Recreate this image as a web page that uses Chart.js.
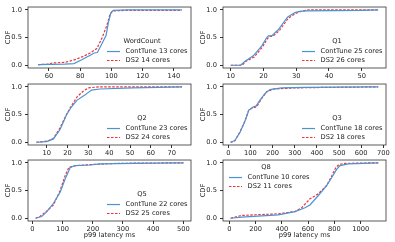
<!DOCTYPE html>
<html>
<head>
<meta charset="utf-8">
<script src="https://cdn.jsdelivr.net/npm/chart.js@4"></script>
<style>
  body{margin:0;background:#fff;}
  #wrap{position:relative;width:395px;height:242px;overflow:hidden;}
  #wrap canvas{position:absolute;}
</style>
</head>
<body>
<div id="wrap"></div>
<script>
// ---- data ----
const titles = ["WordCount","Q1","Q2","Q3","Q5","Q8"];
const contTuneLabels = ["ContTune 13 cores","ContTune 25 cores","ContTune 23 cores","ContTune 18 cores","ContTune 22 cores","ContTune 10 cores"];
const ds2Labels = ["DS2 14 cores","DS2 26 cores","DS2 24 cores","DS2 18 cores","DS2 25 cores","DS2 11 cores"];

const wordcountContTune = [[53,0.01],[70,0.02],[76,0.03],[81,0.10],[87,0.19],[89,0.22],[91,0.23],[93.4,0.36],[96.6,0.54],[98,0.77],[99.7,0.95],[101.2,0.99],[110,1.0],[145,1.0]];
const wordcountDS2 = [[53,0.01],[60,0.02],[62,0.04],[70,0.05],[76.7,0.10],[82,0.16],[86.3,0.22],[90.6,0.30],[93.8,0.48],[97,0.71],[99.1,0.92],[100.8,0.98],[110,0.99],[145,0.99]];
const q1ContTune = [[10,0],[13,0],[14.4,0.07],[16.9,0.17],[19.5,0.35],[21,0.50],[21.5,0.53],[22.5,0.53],[24.5,0.64],[27.4,0.87],[29.6,0.95],[31,0.97],[33,0.98],[50,0.99],[55,1.0]];
const q1DS2 = [[10,0],[13.5,0],[14.6,0.07],[17.2,0.15],[19.7,0.33],[21.2,0.48],[22,0.52],[22.8,0.52],[24.8,0.62],[27.6,0.85],[30,0.94],[32,0.98],[34,1.0],[55,1.0]];
const q2ContTune = [[5,0],[10,0.01],[13.2,0.06],[16.4,0.23],[19.6,0.50],[21.9,0.64],[24.6,0.76],[28.3,0.85],[31.5,0.94],[35.5,0.96],[51.5,0.98],[75,1.0]];
const q2DS2 = [[5,0],[10.4,0.02],[13.2,0.07],[16.4,0.26],[19.6,0.51],[21.9,0.66],[24.6,0.82],[27.5,0.92],[29.9,0.98],[35.5,1.0],[75,1.0]];
const q3ContTune = [[10,0],[30,0.03],[53,0.18],[75,0.38],[93,0.58],[113,0.64],[125,0.65],[143,0.76],[166,0.88],[188,0.95],[241,0.98],[346,0.99],[677,1.0]];
const q3DS2 = [[10,0],[28,0.02],[52,0.18],[75,0.38],[92,0.58],[106,0.61],[128,0.64],[151,0.79],[173,0.91],[203,0.96],[301,0.98],[450,0.99],[677,1.0]];
const q5ContTune = [[11,0],[31,0.03],[48,0.12],[70,0.27],[92,0.47],[108,0.70],[125,0.91],[141,0.95],[191,0.96],[224,0.98],[334,0.99],[500,1.0]];
const q5DS2 = [[11,0],[26,0.035],[48,0.13],[70,0.24],[92,0.50],[108,0.76],[121,0.92],[146,0.95],[202,0.97],[279,0.99],[500,1.0]];
const q8ContTune = [[10,0],[94,0.02],[373,0.06],[500,0.12],[576,0.19],[614,0.24],[678,0.41],[741,0.59],[779,0.73],[817,0.88],[843,0.95],[906,0.98],[1134,1.0]];
const q8DS2 = [[10,0],[94,0.05],[373,0.08],[500,0.12],[551,0.19],[614,0.35],[678,0.44],[741,0.59],[779,0.76],[810,0.91],[835,0.97],[881,0.99],[1134,1.0]];

const wordcountTicks = [60,80,100,120,140];
const q1Ticks = [10,20,30,40,50];
const q2Ticks = [10,20,30,40,50,60,70];
const q3Ticks = [0,100,200,300,400,500,600,700];
const q5Ticks = [0,100,200,300,400,500];
const q8Ticks = [0,200,400,600,800,1000];
const yTicks = [0,0.5,1.0];
const xLabel = "p99 latency ms";

// ---- layout ----
const FONT = "DejaVu Sans";
const FS = 6.7;
const BLUE = "#4a94d4";
const RED = "#f0303a";

const panels = [
  {series:[wordcountContTune,wordcountDS2], ticks:wordcountTicks, min:46.6, max:150.9, left:0,   top:0,   w:195, h:80, legend:"lr"},
  {series:[q1ContTune,q1DS2],               ticks:q1Ticks,        min:7.65, max:57.4,  left:195, top:0,   w:200, h:80, legend:"lr"},
  {series:[q2ContTune,q2DS2],               ticks:q2Ticks,        min:1.0,  max:79.3,  left:0,   top:77,  w:195, h:80, legend:"lr"},
  {series:[q3ContTune,q3DS2],               ticks:q3Ticks,        min:-24,  max:712,   left:195, top:77,  w:200, h:80, legend:"lr"},
  {series:[q5ContTune,q5DS2],               ticks:q5Ticks,        min:-14.3,max:525,   left:0,   top:153, w:195, h:89, legend:"lr", xlabel:true},
  {series:[q8ContTune,q8DS2],               ticks:q8Ticks,        min:-48,  max:1193,  left:195, top:153, w:200, h:89, legend:"ul", xlabel:true}
];

const boxPlugin = {
  id:"box",
  afterDraw(chart, args, opts){
    const {ctx, chartArea:a} = chart;
    ctx.save();
    ctx.strokeStyle = "#333";
    ctx.lineWidth = 0.8;
    ctx.strokeRect(a.left, a.top, a.right-a.left, a.bottom-a.top);

    // legend
    let cx, ty, lx;
    if(opts.pos === "ul"){ cx = a.left+43; ty = a.top+7; lx = a.left+6; }
    else { cx = a.left+114; ty = a.top+34; lx = a.left+79; }
    ctx.fillStyle = "#222";
    ctx.font = FS + "px '" + FONT + "'";
    ctx.textBaseline = "middle";
    ctx.textAlign = "center";
    ctx.fillText(opts.title, cx, ty);
    ctx.textAlign = "left";
    const rows = [[opts.labels[0], BLUE, []], [opts.labels[1], RED, [2.5,1.5]]];
    rows.forEach((r,i)=>{
      const y = ty + 10.5 + i*9;
      ctx.strokeStyle = r[1];
      ctx.lineWidth = 1.2;
      ctx.setLineDash(r[2]);
      ctx.beginPath();
      ctx.moveTo(lx, y);
      ctx.lineTo(lx+13, y);
      ctx.stroke();
      ctx.setLineDash([]);
      ctx.fillText(r[0], lx+18.5, y);
    });
    ctx.restore();
  }
};

const wrap = document.getElementById("wrap");

panels.forEach((p, i)=>{
  const cv = document.createElement("canvas");
  cv.width = p.w; cv.height = p.h;
  cv.style.left = p.left+"px"; cv.style.top = p.top+"px";
  cv.style.width = p.w+"px"; cv.style.height = p.h+"px";
  wrap.appendChild(cv);

  const xH = p.xlabel ? 21 : 12;
  const rightPad = p.w - 191;

  new Chart(cv.getContext("2d"), {
    type:"line",
    data:{
      datasets:[
        {
          data:p.series[0].map(d=>({x:d[0], y:d[1]})),
          borderColor:BLUE, borderWidth:1.2, pointRadius:0, tension:0, fill:false
        },
        {
          data:p.series[1].map(d=>({x:d[0], y:d[1]})),
          borderColor:RED, borderWidth:1.2, borderDash:[2.5,1.5], pointRadius:0, tension:0, fill:false
        }
      ]
    },
    options:{
      responsive:false,
      animation:false,
      devicePixelRatio:1,
      layout:{padding:{top:3, right:rightPad, left:0, bottom:0}},
      plugins:{
        legend:{display:false},
        tooltip:{enabled:false},
        box:{title:titles[i], labels:[contTuneLabels[i], ds2Labels[i]], pos:p.legend}
      },
      scales:{
        x:{
          type:"linear",
          min:p.min, max:p.max,
          afterBuildTicks:s=>{ s.ticks = p.ticks.map(v=>({value:v})); },
          afterFit:s=>{ s.height = xH; },
          grid:{drawOnChartArea:false, drawTicks:true, tickLength:3, color:"#333"},
          border:{display:false},
          ticks:{font:{family:FONT, size:FS}, color:"#222", padding:1, maxRotation:0, autoSkip:false, callback:v=>String(v)},
          title:{display:!!p.xlabel, text:xLabel, font:{family:FONT, size:FS}, color:"#222", padding:{top:0, bottom:3}}
        },
        y:{
          type:"linear",
          min:-0.05, max:1.05,
          afterBuildTicks:s=>{ s.ticks = yTicks.map(v=>({value:v})); },
          afterFit:s=>{ s.width = 28; },
          grid:{drawOnChartArea:false, drawTicks:true, tickLength:3, color:"#333"},
          border:{display:false},
          ticks:{font:{family:FONT, size:FS}, color:"#222", padding:3, callback:v=>Number(v).toFixed(1)},
          title:{display:true, text:"CDF", font:{family:FONT, size:FS}, color:"#222", padding:{top:4, bottom:0}}
        }
      }
    },
    plugins:[boxPlugin]
  });
});
</script>
</body>
</html>
